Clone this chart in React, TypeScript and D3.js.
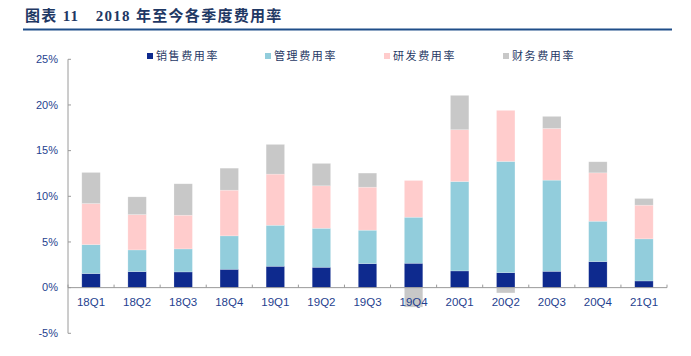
import React from "react";
import * as d3 from "d3";

const categories = ["18Q1","18Q2","18Q3","18Q4","19Q1","19Q2","19Q3","19Q4","20Q1","20Q2","20Q3","20Q4","21Q1"];
const seriesNames = ["销售费用率","管理费用率","研发费用率","财务费用率"];
const sales = [1.54, 1.75, 1.72, 2.01, 2.34, 2.23, 2.63, 2.67, 1.83, 1.64, 1.79, 2.85, 0.73];
const admin = [3.17, 2.38, 2.52, 3.66, 4.49, 4.27, 3.66, 5.04, 9.79, 12.18, 9.98, 4.42, 4.61];
const rnd = [4.5, 3.87, 3.69, 5.0, 5.6, 4.65, 4.71, 4.02, 5.67, 5.59, 5.66, 5.3, 3.69];
const fin = [3.4, 1.94, 3.44, 2.41, 3.25, 2.45, 1.54, -2.13, 3.76, -0.58, 1.32, 1.21, 0.73];
const yTicks = [-5, 0, 5, 10, 15, 20, 25];
const colors = ["#0E2A8E", "#92CDDC", "#FFCCCC", "#C8C8C8"];

export default function App() {
  const W = 691, H = 356;
  const left = 68, right = 667, top = 59.3, bottom = 333.3;
  const x = d3.scaleBand<string>().domain(categories).range([left, right]).paddingInner(0.6).paddingOuter(0.3);
  const y = d3.scaleLinear().domain([-5, 25]).range([bottom, top]);
  const rows = categories.map((c, i) => ({ cat: c, s0: sales[i], s1: admin[i], s2: rnd[i], s3: fin[i] }));
  const stack = d3.stack<any>().keys(["s0", "s1", "s2", "s3"]).offset(d3.stackOffsetDiverging);
  const layers = stack(rows);
  const step = (right - left) / categories.length;
  const boundaries = d3.range(categories.length + 1).map((i) => left + i * step);
  const axisColor = "#9a9a9a";
  const textBlue = "#1F3F8F";
  const legendX = [147, 265, 384, 503];
  return (
    <svg width={W} height={H} style={{ display: "block", position: "absolute", left: 0, top: 0 }}>
      <rect width={W} height={H} fill="#fff" />
      <text x={25} y={21} fontFamily="'Liberation Serif', 'Noto Sans CJK SC', serif" fontWeight="bold" fontSize={15} letterSpacing={1.3} fill="#1F3864">
        图表 11　2018 年至今各季度费用率
      </text>
      <line x1={23} x2={672} y1={29.5} y2={29.5} stroke="#1F4E89" strokeWidth={2} />
      {seriesNames.map((n, i) => (
        <g key={n}>
          <rect x={legendX[i]} y={53} width={6} height={6} fill={colors[i]} />
          <text x={legendX[i] + 9} y={60} fontFamily="'Noto Sans CJK SC', sans-serif" fontSize={11} letterSpacing={1.6} fill="#1F3864">{n}</text>
        </g>
      ))}
      {layers.map((layer, li) => (
        <g key={li}>
          {layer.map((d, i) => (
            <rect key={i} x={x(categories[i])} width={x.bandwidth()} y={y(Math.max(d[0], d[1]))}
              height={Math.abs(y(d[0]) - y(d[1]))} fill={colors[li]} stroke="#ffffff" strokeOpacity={0.35} strokeWidth={0.6} />
          ))}
        </g>
      ))}
      <line x1={left} x2={left} y1={top} y2={bottom} stroke={axisColor} strokeWidth={1} />
      {yTicks.map((t) => (
        <g key={t}>
          <line x1={left} x2={left + 3} y1={y(t)} y2={y(t)} stroke={axisColor} />
          <text x={58} y={y(t)} dy="0.35em" textAnchor="end" fontFamily="'Liberation Sans', Arial, sans-serif" fontSize={11} fill={textBlue}>{t}%</text>
        </g>
      ))}
      <line x1={left} x2={right} y1={y(0)} y2={y(0)} stroke={axisColor} strokeWidth={1} />
      {boundaries.map((b, i) => (
        <line key={i} x1={b} x2={b} y1={y(0)} y2={y(0) - 3} stroke={axisColor} />
      ))}
      {categories.map((c) => (
        <text key={c} x={(x(c) as number) + x.bandwidth() / 2} y={306} textAnchor="middle" fontFamily="'Liberation Sans', Arial, sans-serif" fontSize={11.5} fill={textBlue}>{c}</text>
      ))}
    </svg>
  );
}
